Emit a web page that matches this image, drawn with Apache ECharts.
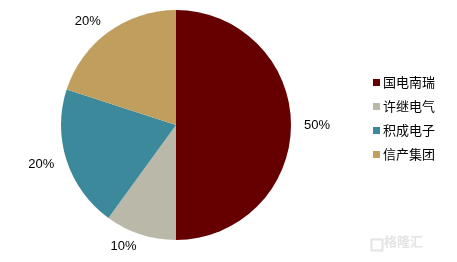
<!DOCTYPE html>
<html><head><meta charset="utf-8">
<script src="https://cdn.jsdelivr.net/npm/echarts@6/dist/echarts.min.js"></script>
<style>html,body{margin:0;padding:0;background:#fff;}#c{width:457px;height:262px;}</style>
</head><body><div id="c"></div>
<script>
const categories = ['国电南瑞', '许继电气', '积成电子', '信产集团'];
const values = [50, 10, 20, 20];
const colors = ['#660000', '#BAB8A8', '#3D899C', '#C09E5E'];

const chart = echarts.init(document.getElementById('c'), null, {renderer: 'canvas'});
chart.setOption({
  animation: false,
  backgroundColor: '#fff',
  color: colors,
  legend: {
    orient: 'vertical',
    left: 373,
    top: 76,
    padding: 0,
    icon: 'rect',
    itemWidth: 7,
    itemHeight: 7,
    itemGap: 11,
    textStyle: {fontFamily: '"Noto Sans CJK SC", sans-serif', fontSize: 13, color: '#000', padding: [0, 0, 0, -2]},
    data: categories
  },
  graphic: [{
    type: 'text', left: 384, top: 235,
    style: {text: '格隆汇', fill: '#e4e4e4', font: 'bold 13px "Noto Sans CJK SC", sans-serif'}
  }, {
    type: 'rect', left: 369, top: 237, shape: {width: 11, height: 11},
    style: {fill: 'none', stroke: '#e4e4e4', lineWidth: 2}
  }],
  series: [{
    type: 'pie',
    center: [176, 125],
    radius: [0, 115],
    startAngle: 90,
    clockwise: true,
    data: categories.map((n, i) => ({name: n, value: values[i]})),
    label: {
      show: true,
      position: 'outside',
      formatter: '{c}%',
      fontFamily: 'Liberation Sans, Arial, sans-serif',
      fontSize: 13,
      color: '#000',
      distanceToLabelLine: 0
    },
    labelLine: {show: false, length: 13, length2: 0},
    itemStyle: {borderWidth: 0},
    emphasis: {disabled: true}
  }]
});
</script></body></html>
